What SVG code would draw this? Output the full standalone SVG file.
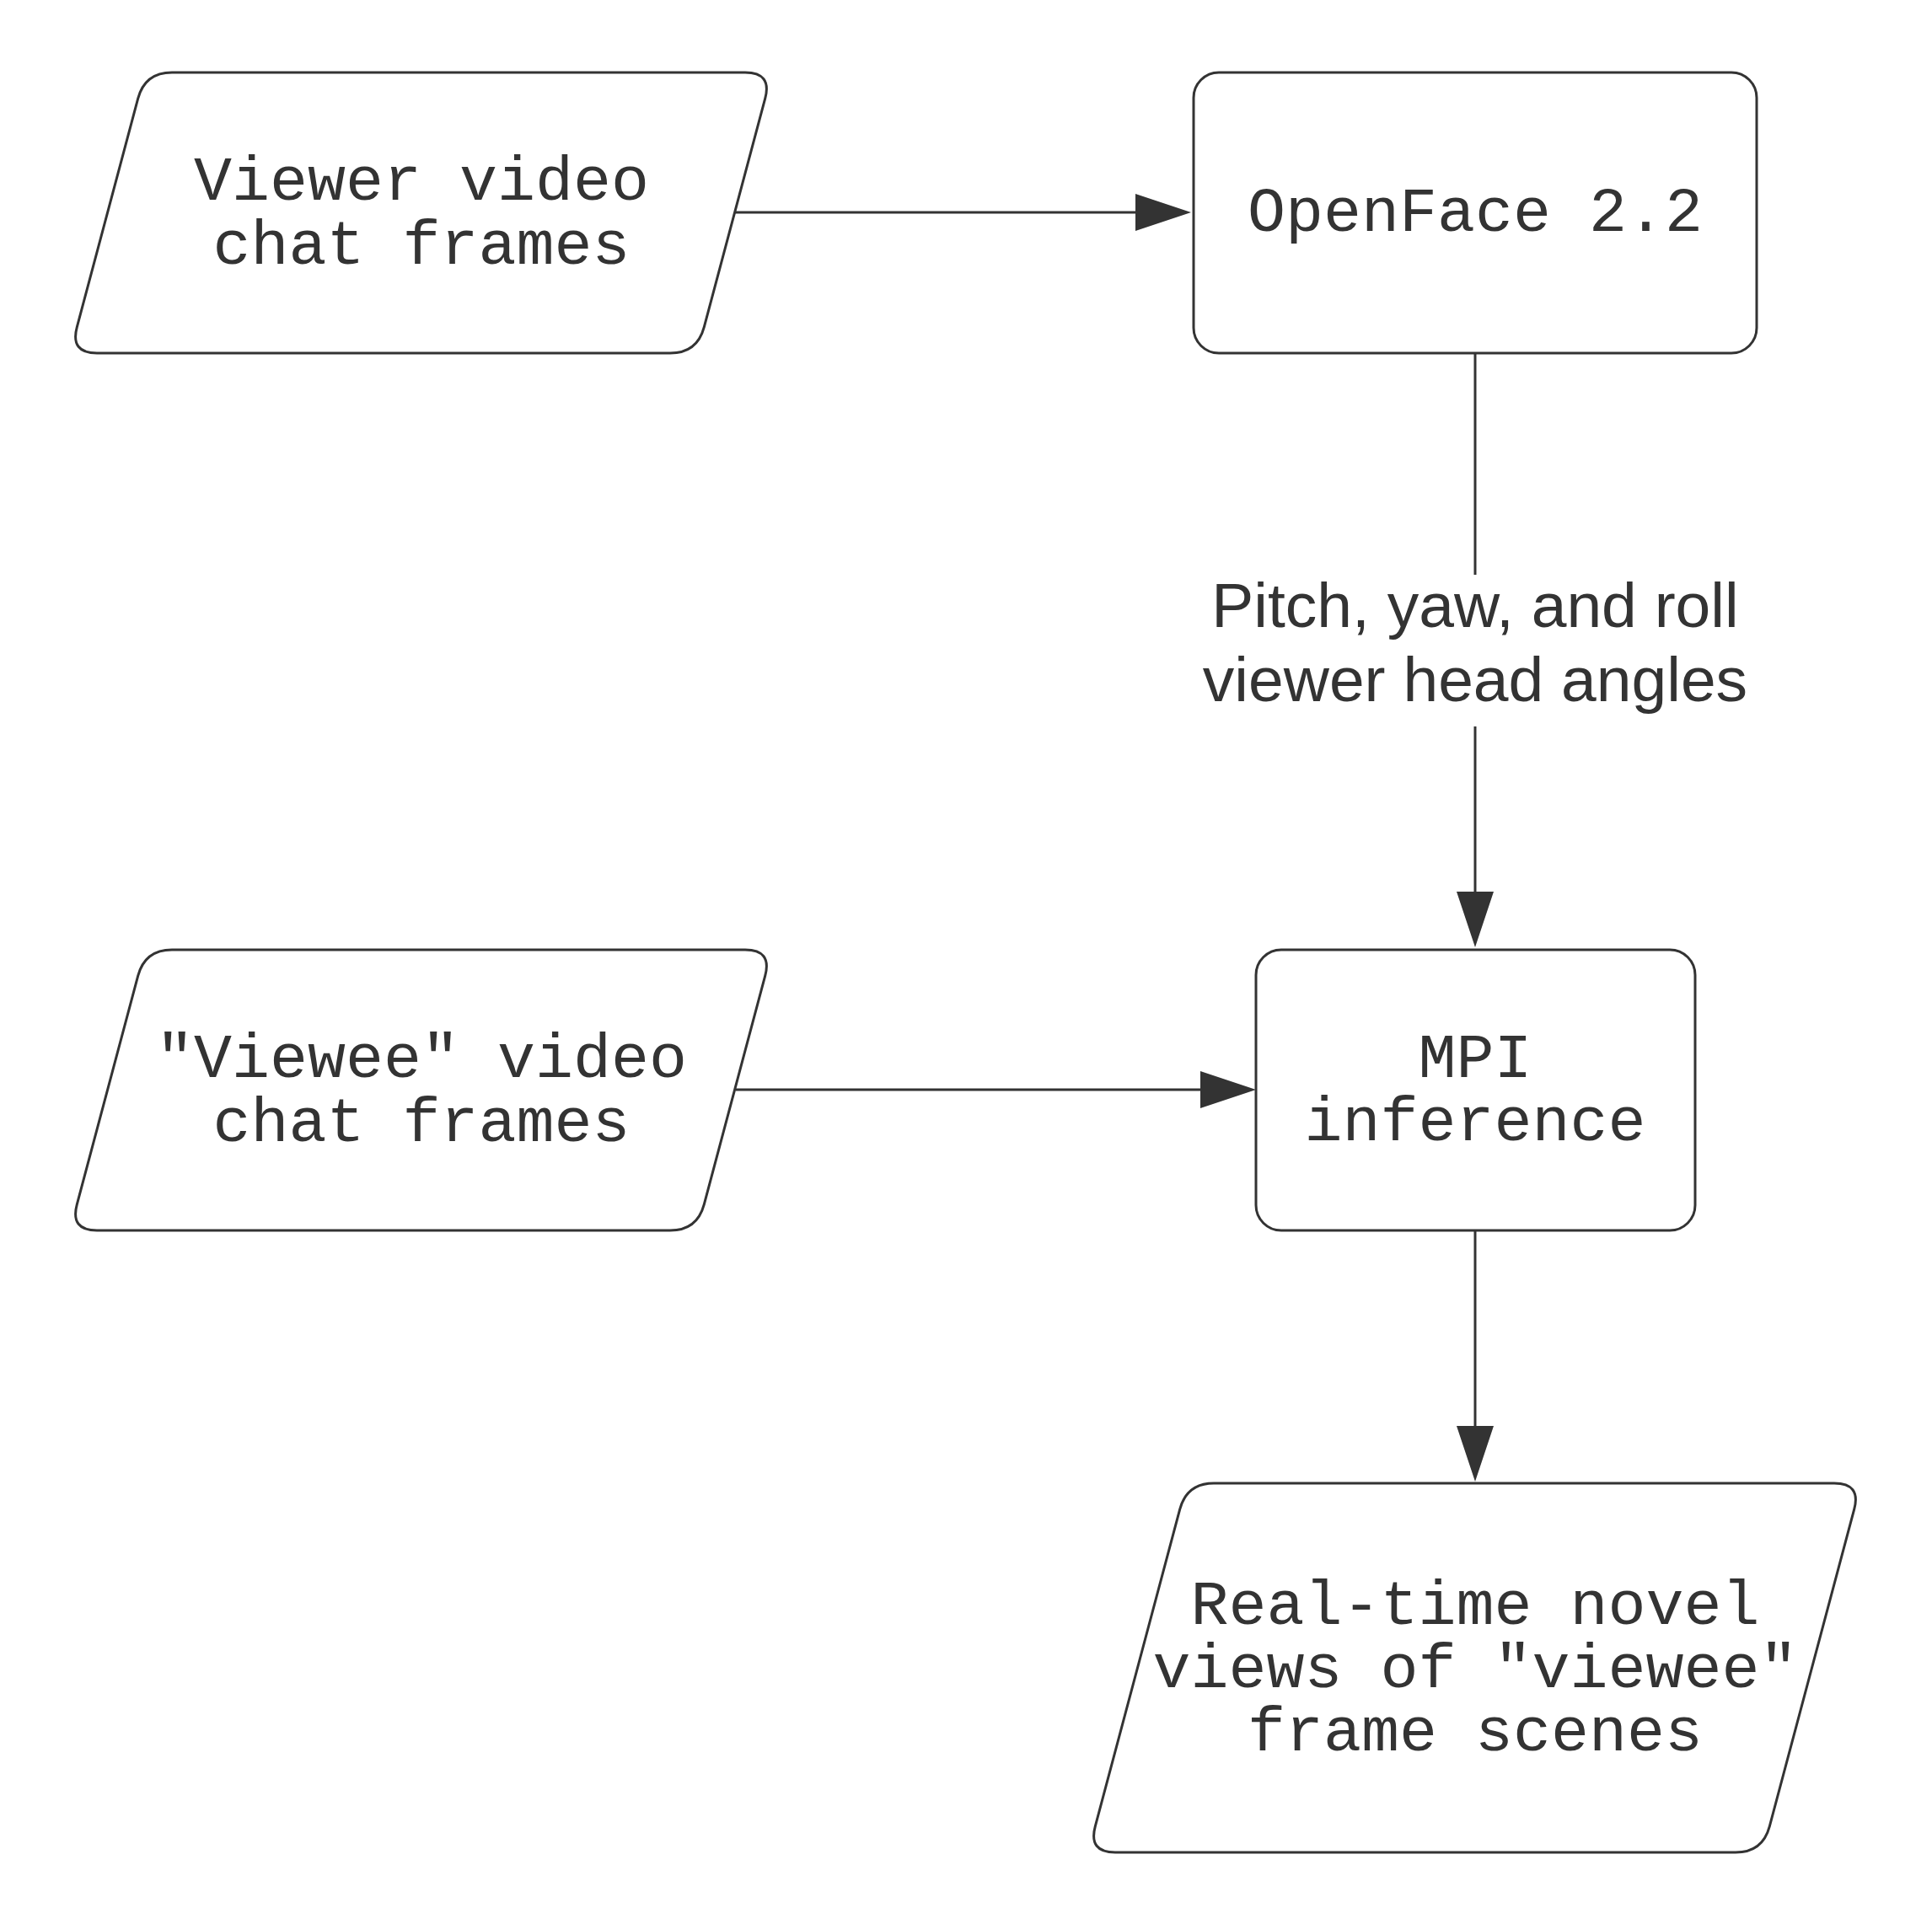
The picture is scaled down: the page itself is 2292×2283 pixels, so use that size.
<svg xmlns="http://www.w3.org/2000/svg" width="2292" height="2283" viewBox="0 0 2292 2283">
<style>
.shape{fill:#ffffff;stroke:#333333;stroke-width:3}
.mono{font-family:"Liberation Mono","DejaVu Sans Mono",monospace;font-size:75px;fill:#333333;text-anchor:middle}
.sans{font-family:"Liberation Sans",Arial,sans-serif;font-size:75px;fill:#333333;text-anchor:middle}
.conn{stroke:#333333;stroke-width:3;fill:none}
</style>
<defs>
<marker id="arrow" markerUnits="userSpaceOnUse" markerWidth="70" markerHeight="46" refX="6" refY="22" orient="auto" viewBox="0 0 70 46">
<path d="M0,0 L66,22 L0,44 Z" fill="#333333"/>
</marker>
</defs>
<rect width="2292" height="2283" fill="#ffffff"/>
<g id="connectors">
<line class="conn" x1="872" y1="252" x2="1353" y2="252" marker-end="url(#arrow)"/>
<line class="conn" x1="1750" y1="419" x2="1750" y2="682"/>
<line class="conn" x1="1750" y1="862" x2="1750" y2="1064" marker-end="url(#arrow)"/>
<text class="sans" x="1750" y="743.5">Pitch, yaw, and roll</text>
<text class="sans" x="1750" y="832">viewer head angles</text>
<line class="conn" x1="873" y1="1293" x2="1430" y2="1293" marker-end="url(#arrow)"/>
<line class="conn" x1="1750" y1="1460" x2="1750" y2="1698" marker-end="url(#arrow)"/>
</g>
<g id="viewer-frames">
<path class="shape" d="M204,86 L884,86 Q916,86 907.7,116.9 L835.3,388.1 Q827,419 795,419 L115,419 Q83,419 91.3,388.1 L163.7,116.9 Q172,86 204,86 Z"/>
<text class="mono" x="500" y="237">Viewer video</text>
<text class="mono" x="500" y="313">chat frames</text>
</g>
<g id="openface">
<rect class="shape" x="1416" y="86" width="668" height="333" rx="30" ry="30"/>
<text class="mono" x="1750" y="274">OpenFace 2.2</text>
</g>
<g id="viewee-frames">
<path class="shape" d="M204,1127 L884,1127 Q916,1127 907.7,1157.9 L835.3,1429.1 Q827,1460 795,1460 L115,1460 Q83,1460 91.3,1429.1 L163.7,1157.9 Q172,1127 204,1127 Z"/>
<text class="mono" x="500" y="1278">"Viewee" video</text>
<text class="mono" x="500" y="1354">chat frames</text>
</g>
<g id="mpi">
<rect class="shape" x="1490" y="1127" width="521" height="333" rx="30" ry="30"/>
<text class="mono" x="1750" y="1278">MPI</text>
<text class="mono" x="1750" y="1353">inference</text>
</g>
<g id="novel-views">
<path class="shape" d="M1440,1760 L2176,1760 Q2208,1760 2199.7,1790.9 L2099.3,2167.1 Q2091,2198 2059,2198 L1323,2198 Q1291,2198 1299.3,2167.1 L1399.7,1790.9 Q1408,1760 1440,1760 Z"/>
<text class="mono" x="1750" y="1927">Real-time novel</text>
<text class="mono" x="1750" y="2002">views of "viewee"</text>
<text class="mono" x="1750" y="2077">frame scenes</text>
</g>
</svg>
